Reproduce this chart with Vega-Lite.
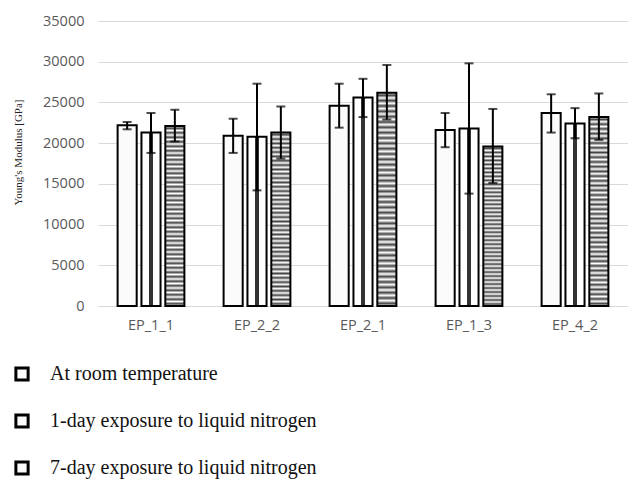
{
  "$schema": "https://vega.github.io/schema/vega-lite/v6.json",
  "width": 530,
  "height": 285,
  "autosize": {"type": "none"},
  "padding": {"left": 98, "top": 21, "right": 0, "bottom": 175},
  "background": "white",
  "config": {"view": {"stroke": null}},
  "data": {
    "values": [
      {"sample": "EP_1_1", "cond": "At room temperature", "value": 22200, "lo": 21700, "hi": 22600},
      {"sample": "EP_1_1", "cond": "1-day exposure to liquid nitrogen", "value": 21300, "lo": 18800, "hi": 23700},
      {"sample": "EP_1_1", "cond": "7-day exposure to liquid nitrogen", "value": 22100, "lo": 20200, "hi": 24100},
      {"sample": "EP_2_2", "cond": "At room temperature", "value": 20900, "lo": 18800, "hi": 23000},
      {"sample": "EP_2_2", "cond": "1-day exposure to liquid nitrogen", "value": 20800, "lo": 14200, "hi": 27300},
      {"sample": "EP_2_2", "cond": "7-day exposure to liquid nitrogen", "value": 21300, "lo": 18100, "hi": 24500},
      {"sample": "EP_2_1", "cond": "At room temperature", "value": 24600, "lo": 21900, "hi": 27300},
      {"sample": "EP_2_1", "cond": "1-day exposure to liquid nitrogen", "value": 25600, "lo": 23200, "hi": 27900},
      {"sample": "EP_2_1", "cond": "7-day exposure to liquid nitrogen", "value": 26200, "lo": 22900, "hi": 29600},
      {"sample": "EP_1_3", "cond": "At room temperature", "value": 21600, "lo": 19500, "hi": 23700},
      {"sample": "EP_1_3", "cond": "1-day exposure to liquid nitrogen", "value": 21800, "lo": 13800, "hi": 29800},
      {"sample": "EP_1_3", "cond": "7-day exposure to liquid nitrogen", "value": 19600, "lo": 15100, "hi": 24200},
      {"sample": "EP_4_2", "cond": "At room temperature", "value": 23700, "lo": 21300, "hi": 26000},
      {"sample": "EP_4_2", "cond": "1-day exposure to liquid nitrogen", "value": 22400, "lo": 20600, "hi": 24300},
      {"sample": "EP_4_2", "cond": "7-day exposure to liquid nitrogen", "value": 23200, "lo": 20400, "hi": 26100}
    ]
  },
  "encoding": {
    "x": {
      "field": "sample", "type": "nominal", "sort": null,
      "scale": {"paddingInner": 0.37, "paddingOuter": 0.185},
      "axis": {
        "title": null, "labelAngle": 0, "domain": false, "ticks": false,
        "labelFont": "Open Sans", "labelFontSize": 14.5, "labelColor": "#595959",
        "labelPadding": 12
      }
    },
    "xOffset": {
      "field": "cond", "type": "nominal", "sort": null,
      "scale": {"paddingInner": 0.2, "paddingOuter": 0}
    }
  },
  "layer": [
    {
      "mark": {"type": "bar", "strokeWidth": 2},
      "encoding": {
        "y": {
          "field": "value", "type": "quantitative",
          "scale": {"domain": [0, 35000], "nice": false},
          "axis": {
            "title": "Young's Modulus [GPa]",
            "titleFont": "Liberation Serif", "titleFontSize": 11, "titleFontWeight": "normal",
            "titleColor": "#222", "titleX": -80, "titleY": 131, "titleAngle": -90,
            "titleAlign": "center", "titleBaseline": "middle",
            "values": [0, 5000, 10000, 15000, 20000, 25000, 30000, 35000],
            "format": "d",
            "domain": false, "ticks": false, "labelPadding": 14,
            "labelFont": "Open Sans", "labelFontSize": 14.5, "labelColor": "#595959",
            "gridColor": "#d9d9d9", "gridWidth": 1
          }
        },
        "stroke": {
          "field": "cond", "type": "nominal", "sort": null,
          "scale": {
            "domain": ["At room temperature", "1-day exposure to liquid nitrogen", "7-day exposure to liquid nitrogen"],
            "range": ["black", "black", "black"]
          },
          "legend": {
            "title": null, "orient": "none", "legendX": -86, "legendY": 343,
            "direction": "vertical", "symbolType": "square", "symbolSize": 150,
            "symbolFillColor": "white", "symbolStrokeWidth": 3,
            "labelFont": "Liberation Serif", "labelFontSize": 20, "labelColor": "#111",
            "labelOffset": 18, "rowPadding": 21, "labelLimit": 500
          }
        },
        "fill": {
          "condition": [
            {"test": "datum.cond === '1-day exposure to liquid nitrogen'",
             "value": {"gradient": "linear", "x1": 0, "y1": 0, "x2": 1, "y2": 0, "stops": [
                {"offset": 0, "color": "#ffffff"},
                {"offset": 0.42, "color": "#ffffff"},
                {"offset": 0.42, "color": "#333333"},
                {"offset": 0.58, "color": "#333333"},
                {"offset": 0.58, "color": "#ffffff"},
                {"offset": 1, "color": "#ffffff"}
              ]}},
            {"test": "datum.cond === '7-day exposure to liquid nitrogen'",
             "value": {"gradient": "linear", "x1": 0, "y1": 0, "x2": 0, "y2": 1, "stops": [
                {"offset": 0, "color": "#ffffff"}, {"offset": 0.0125, "color": "#444444"},
                {"offset": 0.025, "color": "#ffffff"}, {"offset": 0.0375, "color": "#444444"},
                {"offset": 0.05, "color": "#ffffff"}, {"offset": 0.0625, "color": "#444444"},
                {"offset": 0.075, "color": "#ffffff"}, {"offset": 0.0875, "color": "#444444"},
                {"offset": 0.1, "color": "#ffffff"}, {"offset": 0.1125, "color": "#444444"},
                {"offset": 0.125, "color": "#ffffff"}, {"offset": 0.1375, "color": "#444444"},
                {"offset": 0.15, "color": "#ffffff"}, {"offset": 0.1625, "color": "#444444"},
                {"offset": 0.175, "color": "#ffffff"}, {"offset": 0.1875, "color": "#444444"},
                {"offset": 0.2, "color": "#ffffff"}, {"offset": 0.2125, "color": "#444444"},
                {"offset": 0.225, "color": "#ffffff"}, {"offset": 0.2375, "color": "#444444"},
                {"offset": 0.25, "color": "#ffffff"}, {"offset": 0.2625, "color": "#444444"},
                {"offset": 0.275, "color": "#ffffff"}, {"offset": 0.2875, "color": "#444444"},
                {"offset": 0.3, "color": "#ffffff"}, {"offset": 0.3125, "color": "#444444"},
                {"offset": 0.325, "color": "#ffffff"}, {"offset": 0.3375, "color": "#444444"},
                {"offset": 0.35, "color": "#ffffff"}, {"offset": 0.3625, "color": "#444444"},
                {"offset": 0.375, "color": "#ffffff"}, {"offset": 0.3875, "color": "#444444"},
                {"offset": 0.4, "color": "#ffffff"}, {"offset": 0.4125, "color": "#444444"},
                {"offset": 0.425, "color": "#ffffff"}, {"offset": 0.4375, "color": "#444444"},
                {"offset": 0.45, "color": "#ffffff"}, {"offset": 0.4625, "color": "#444444"},
                {"offset": 0.475, "color": "#ffffff"}, {"offset": 0.4875, "color": "#444444"},
                {"offset": 0.5, "color": "#ffffff"}, {"offset": 0.5125, "color": "#444444"},
                {"offset": 0.525, "color": "#ffffff"}, {"offset": 0.5375, "color": "#444444"},
                {"offset": 0.55, "color": "#ffffff"}, {"offset": 0.5625, "color": "#444444"},
                {"offset": 0.575, "color": "#ffffff"}, {"offset": 0.5875, "color": "#444444"},
                {"offset": 0.6, "color": "#ffffff"}, {"offset": 0.6125, "color": "#444444"},
                {"offset": 0.625, "color": "#ffffff"}, {"offset": 0.6375, "color": "#444444"},
                {"offset": 0.65, "color": "#ffffff"}, {"offset": 0.6625, "color": "#444444"},
                {"offset": 0.675, "color": "#ffffff"}, {"offset": 0.6875, "color": "#444444"},
                {"offset": 0.7, "color": "#ffffff"}, {"offset": 0.7125, "color": "#444444"},
                {"offset": 0.725, "color": "#ffffff"}, {"offset": 0.7375, "color": "#444444"},
                {"offset": 0.75, "color": "#ffffff"}, {"offset": 0.7625, "color": "#444444"},
                {"offset": 0.775, "color": "#ffffff"}, {"offset": 0.7875, "color": "#444444"},
                {"offset": 0.8, "color": "#ffffff"}, {"offset": 0.8125, "color": "#444444"},
                {"offset": 0.825, "color": "#ffffff"}, {"offset": 0.8375, "color": "#444444"},
                {"offset": 0.85, "color": "#ffffff"}, {"offset": 0.8625, "color": "#444444"},
                {"offset": 0.875, "color": "#ffffff"}, {"offset": 0.8875, "color": "#444444"},
                {"offset": 0.9, "color": "#ffffff"}, {"offset": 0.9125, "color": "#444444"},
                {"offset": 0.925, "color": "#ffffff"}, {"offset": 0.9375, "color": "#444444"},
                {"offset": 0.95, "color": "#ffffff"}, {"offset": 0.9625, "color": "#444444"},
                {"offset": 0.975, "color": "#ffffff"}, {"offset": 0.9875, "color": "#444444"},
                {"offset": 1, "color": "#ffffff"}
              ]}}
          ],
          "value": "#fbfbfb"
        }
      }
    },
    {
      "mark": {"type": "rule", "color": "black", "strokeWidth": 2},
      "encoding": {
        "y": {"field": "lo", "type": "quantitative"},
        "y2": {"field": "hi"}
      }
    },
    {
      "mark": {"type": "tick", "color": "black", "thickness": 2, "size": 9},
      "encoding": {"y": {"field": "lo", "type": "quantitative"}}
    },
    {
      "mark": {"type": "tick", "color": "black", "thickness": 2, "size": 9},
      "encoding": {"y": {"field": "hi", "type": "quantitative"}}
    }
  ]
}
